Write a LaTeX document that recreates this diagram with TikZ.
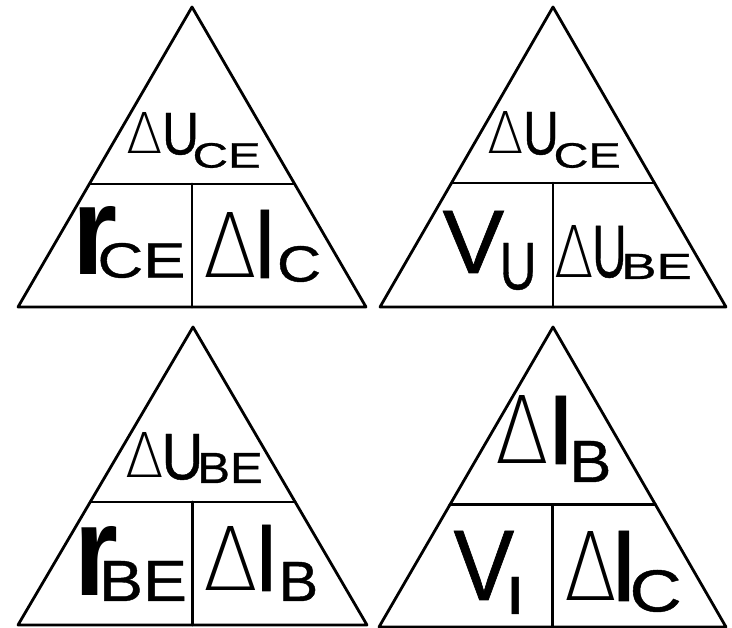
\documentclass[tikz,border=0pt]{standalone}
\usepackage{fontspec}
\setmainfont{Liberation Sans}[FakeBold=0.7]
\newfontfamily\rfont{Liberation Sans}[UprightFont=*, BoldFont=* Bold]
\IfFontExistsTF{DejaVu Sans ExtraLight}
  {\newfontfamily\thinfont{DejaVu Sans ExtraLight}}
  {\IfFontExistsTF{DejaVuSans-ExtraLight.ttf}
    {\newfontfamily\thinfont{DejaVuSans-ExtraLight.ttf}}
    {\newfontfamily\thinfont{Liberation Sans}}}
\usetikzlibrary{calc}
\tikzset{
  edge/.style={line width=2.8pt, line join=round, line cap=round},
  glyph/.style={inner sep=0pt, outer sep=0pt, anchor=south west}
}
\newcommand\pc[6]{\node[glyph] (#1) at (#2,#3) {\resizebox*{#4pt}{#5pt}{#6}};}
\newcommand\dl{{\thinfont Δ}}
\newcommand\rr{{\rfont\bfseries r}}
\newcommand\tri[7]{%
  \coordinate (#1a) at (#2,#3);
  \coordinate (#1l) at (#5,#4);
  \coordinate (#1r) at (#6,#4);
  \coordinate (#1p) at ($(#1a)!#7!(#1l)$);
  \coordinate (#1q) at ($(#1a)!#7!(#1r)$);
  \coordinate (#1m) at ($(#1p)!0.5!(#1q)$);
  \draw[edge] (#1a) -- (#1l) -- (#1r) -- cycle;
  \draw[edge] (#1p) -- (#1q);
  \draw[edge] (#1m) -- (#1m |- #1l);
}
\begin{document}
\begin{tikzpicture}[x=1pt,y=-1pt]
\fill[white] (0,0) rectangle (732,628);
\useasboundingbox (0,0) rectangle (732,628);
% triangles
\tri{A}{192}{7}{307}{18}{366}{0.59}
\tri{B}{553}{7}{307}{380}{726}{0.587}
\tri{C}{193}{327}{625}{18}{367}{0.587}
\tri{D}{553}{327}{627}{379}{726}{0.593}
% T1 top
\pc{Atd}{126.7}{154}{36.5}{41}{\dl}
\pc{Atu}{162.1}{155}{36.9}{42}{U}
\pc{Ats}{192.6}{168}{68.2}{25}{CE}
% T1 bottom left
\pc{Alr}{72.4}{275}{45}{68}{\rr}
\pc{Als}{97.5}{278}{88}{35}{CE}
% T1 bottom right
\pc{Ard}{203.6}{278}{53.8}{65}{\dl}
\pc{Ari}{253.2}{278}{23.4}{68}{I}
\pc{Ars}{277}{282}{44.1}{36}{C}
% T2 top
\pc{Btd}{487.7}{154}{36.5}{42}{\dl}
\pc{Btu}{523.2}{155}{35.6}{43}{U}
\pc{Bts}{553.6}{168}{67.1}{25}{CE}
% T2 bottom left
\pc{Blv}{442.6}{273}{61.6}{62}{V}
\pc{Bls}{499.6}{290}{36.9}{47}{U}
% T2 bottom right
\pc{Brd}{554.7}{278}{39.6}{52}{\dl}
\pc{Bru}{592.3}{278}{34.3}{52}{U}
\pc{Brs}{621.1}{279}{70.9}{25}{BE}
% T3 top
\pc{Ctd}{125.7}{478}{38.6}{45}{\dl}
\pc{Ctu}{161.5}{480}{41.9}{46}{U}
\pc{Cts}{197.4}{483}{65.3}{30}{BE}
% T3 bottom left
\pc{Clr}{74.6}{596}{43.8}{69}{\rr}
\pc{Cls}{99}{601}{88}{40}{BE}
% T3 bottom right
\pc{Crd}{203.6}{591}{54.8}{64}{\dl}
\pc{Cri}{254.7}{591}{23.4}{66}{I}
\pc{Crs}{278.7}{601}{39.5}{39}{B}
% T4 top
\pc{Dtd}{495.6}{464}{53.8}{68}{\dl}
\pc{Dti}{546.2}{464}{29.3}{68}{I}
\pc{Dts}{569.4}{482}{42}{41}{B}
% T4 bottom left
\pc{Dlv}{453.6}{600}{60.6}{69}{V}
\pc{Dls}{505}{614}{20.5}{37}{I}
% T4 bottom right
\pc{Drd}{564.6}{601}{52.8}{69}{\dl}
\pc{Dri}{609.2}{601}{29.3}{70}{I}
\pc{Drs}{629.5}{612}{52.2}{42}{C}
\end{tikzpicture}
\end{document}
